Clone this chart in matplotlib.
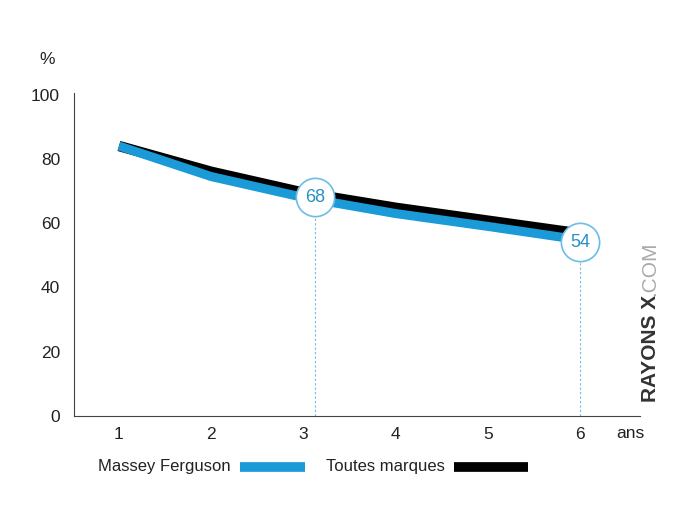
import matplotlib
matplotlib.use("Agg")
import matplotlib.pyplot as plt

plt.rcParams['font.family'] = ['Liberation Sans', 'DejaVu Sans']

years = [1, 2, 3, 4, 5, 6]
massey = [84, 74.5, 68, 63, 59, 54.8]
toutes = [84, 76, 69.5, 64.8, 60.8, 56.8]
ann_x = [3.13, 6.0]
ann_y = [68, 54]
ann_labels = ["68", "54"]
yticks = [0, 20, 40, 60, 80, 100]

blue = '#1a9ad6'
fig = plt.figure(figsize=(7, 5.08), dpi=100)
ax = fig.add_axes([0.1057, 0.181, 0.8083, 0.636])
ax.plot(years, toutes, color='black', lw=7.5, solid_capstyle='butt', zorder=2)
ax.plot(years, massey, color=blue, lw=6.5, solid_capstyle='butt', zorder=3)

for x, y, lab in zip(ann_x, ann_y, ann_labels):
    ax.vlines(x, 0, y, colors='#6cbde6', linestyles=(0, (2, 2)), lw=0.8, zorder=1)
    ax.scatter([x], [y], s=760, facecolor='white', edgecolor='#6cbde6', linewidth=1.2, zorder=4)
    ax.text(x, y, lab, color='#2a8fc4', fontsize=13, ha='center', va='center', zorder=5)

ax.set_xlim(0.512, 6.65)
ax.set_ylim(0, 100.5)
ax.set_xticks(years)
ax.set_yticks(yticks)
ax.tick_params(length=0, labelsize=12.5, colors='#222222', pad=8)
ax.tick_params(axis='y', pad=10)
for s in ['top', 'right']:
    ax.spines[s].set_visible(False)
for s in ['left', 'bottom']:
    ax.spines[s].set_color('#444444')
    ax.spines[s].set_linewidth(0.8)

fig.text(47/700, 1 - 60/508, '%', fontsize=12.5, ha='center', va='center', color='#222222')
fig.text(630/700, 1 - 433/508, 'ans', fontsize=12.5, ha='center', va='center', color='#222222')

fig.text(650/700, 1 - 402/508, 'RAYONS X', fontsize=15, fontweight='bold', rotation=90,
         ha='center', va='bottom', color='#333333')
fig.text(650/700, 1 - 296/508, '.COM', fontsize=15, rotation=90,
         ha='center', va='bottom', color='#aaaaaa')

# legend
fig.text(98/700, 1 - 466/508, 'Massey Ferguson', fontsize=12, ha='left', va='center', color='#222222')
fig.add_artist(plt.Line2D([240/700, 305/700], [1 - 467/508] * 2, color=blue, lw=7, solid_capstyle='butt'))
fig.text(326/700, 1 - 466/508, 'Toutes marques', fontsize=12, ha='left', va='center', color='#222222')
fig.add_artist(plt.Line2D([454/700, 528/700], [1 - 467/508] * 2, color='black', lw=7, solid_capstyle='butt'))

fig.savefig('out.png', dpi=100)
